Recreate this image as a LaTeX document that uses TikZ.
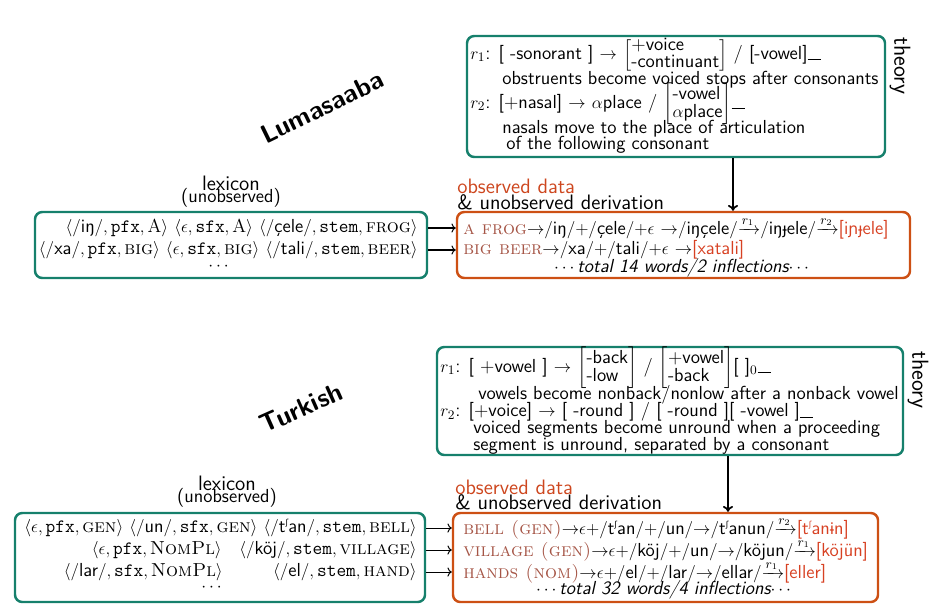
\documentclass[tikz,border=0pt]{standalone}
\usepackage{amsmath}
\usepackage{fontspec}
\newfontfamily\ipafont{DejaVu Sans}[Scale=0.82]
\usetikzlibrary{fit,arrows.meta}
\definecolor{boxgreen}{RGB}{22,128,108}
\definecolor{boxorange}{RGB}{205,80,20}
\definecolor{glosscol}{RGB}{165,85,70}
\definecolor{outcol}{RGB}{215,65,35}
\definecolor{obscol}{RGB}{205,70,30}
\newcommand\ipJ{{\ipafont ɟ}}
\newcommand\ipN{{\ipafont ɲ}}
\newcommand\ipI{{\ipafont ɨ}}
\newcommand\tsh{t\raisebox{0.8ex}{\scriptsize\ipafont ʃ}}
\newcommand\tx[1]{\text{\sffamily #1}}
\newcommand\ra[1]{{\xrightarrow{#1}}}
\newcommand\ar{{\to}}
\newcommand\pl{{+}}
\newcommand\gl[1]{{\color{glosscol}\textsc{#1}}}
\newcommand\oc[1]{{\color{outcol}\sffamily #1}}
\newcommand\slot{\rule[-0.5pt]{0.7em}{0.5pt}}
\newcommand\fm[2]{\renewcommand\arraystretch{0.75}\left[\begin{array}{@{}l@{}}\text{#1}\\#2\end{array}\right]}
\tikzset{
  lexbox/.style={draw=boxgreen,line width=1.7pt,rounded corners=5pt,inner sep=0pt},
  obsbox/.style={draw=boxorange,line width=1.7pt,rounded corners=5pt,inner sep=0pt},
  row/.style={inner sep=0pt,font=\fontsize{13}{15}\selectfont},
  drow/.style={inner sep=0pt,font=\fontsize{13}{15}\selectfont},
  rule/.style={inner sep=0pt,font=\fontsize{13}{15}\selectfont\sffamily,anchor=west},
  lab/.style={inner sep=0pt,font=\Large\sffamily},
  sublab/.style={inner sep=0pt,font=\fontsize{13}{15}\selectfont\sffamily},
  thlab/.style={inner sep=0pt,font=\fontsize{16}{18}\selectfont\sffamily},
  langlab/.style={inner sep=0pt,font=\fontsize{18}{21}\selectfont\sffamily\bfseries},
  harrow/.style={-{To[length=3pt]},line width=0.7pt},
  varrow/.style={-{To[length=4pt,width=7pt]},line width=1.2pt}
}
\begin{document}
\begin{tikzpicture}[x=0.69pt,y=-0.69pt]
\useasboundingbox (0,0) rectangle (931,610);
% ===== Lumasaaba =====
\node[langlab,rotate=26] (langL) at (322,107) {Lumasaaba};
\coordinate (tL1) at (467,36); \coordinate (tL2) at (885,157);
\node[lexbox,fit=(tL1)(tL2)] (thL) {};
\node[thlab,rotate=-90] (tyL) at (900,66) {theory};
\node[rule] (rL1) at (470,55) {$r_1$: [ -sonorant ] $\to$ $\fm{+voice}{\text{-continuant}}$ / [-vowel]\slot};
\node[rule] (rL2) at (502,80) {obstruents become voiced stops after consonants};
\node[rule] (rL3) at (470,104) {$r_2$: [+nasal] $\to$ $\alpha$place / $\fm{-vowel}{\alpha\text{place}}$\slot};
\node[rule] (rL4) at (502,129) {nasals move to the place of articulation};
\node[rule] (rL5) at (506,145) {of the following consonant};
\node[lab] (lxL) at (231,183) {lexicon};
\node[sublab] (unL) at (231,198) {(unobserved)};
\node[lab,anchor=west,text=obscol] (odL) at (457,186) {observed data};
\node[lab,anchor=west] (udL) at (457,202) {\& unobserved derivation};
\coordinate (lL1) at (35,212); \coordinate (lL2) at (427,278);
\node[lexbox,fit=(lL1)(lL2)] (lexL) {};
\coordinate (oL1) at (457,212); \coordinate (oL2) at (910,278);
\node[obsbox,fit=(oL1)(oL2)] (obsL) {};
\node[row,anchor=east] (xL1) at (418,228) {$\langle/\tx{iŋ}/,\texttt{pfx},\mathrm{A}\rangle$ $\langle\epsilon,\texttt{sfx},\mathrm{A}\rangle$ $\langle/\tx{çele}/,\texttt{stem},\textsc{frog}\rangle$};
\node[row,anchor=east] (xL2) at (418,250) {$\langle/\tx{xa}/,\texttt{pfx},\textsc{big}\rangle$ $\langle\epsilon,\texttt{sfx},\textsc{big}\rangle$ $\langle/\tx{tali}/,\texttt{stem},\textsc{beer}\rangle$};
\node[row] (xL3) at (220,267) {$\cdots$};
\node[drow,anchor=west] (dL1) at (463,228) {\gl{a frog}$\ar/\tx{iŋ}/\pl/\tx{çele}/\pl\epsilon\ \ar/\tx{iŋçele}/\ra{r_1}/\tx{iŋ\ipJ ele}/\ra{r_2}$\oc{[i\ipN\ipJ ele]}};
\node[drow,anchor=west] (dL2) at (463,250) {\gl{big beer}$\ar/\tx{xa}/\pl/\tx{tali}/\pl\epsilon\ \ar$\oc{[xatali]}};
\node[row] (dL3) at (683,268) {$\cdots${\sffamily\itshape total 14 words/2 inflections}$\cdots$};
\draw[harrow] (lexL.east |- xL1.east) -- (obsL.west |- xL1.east);
\draw[harrow] (lexL.east |- xL2.east) -- (obsL.west |- xL2.east);
\coordinate (axL) at (733,0);
\draw[varrow] (thL.south -| axL) -- (obsL.north -| axL);
% ===== Turkish =====
\node[langlab,rotate=24] (langT) at (301,408) {Turkish};
\coordinate (tT1) at (437,347); \coordinate (tT2) at (903,455);
\node[lexbox,fit=(tT1)(tT2)] (thT) {};
\node[thlab,rotate=-90] (tyT) at (918,380) {theory};
\node[rule] (rT1) at (440,368) {$r_1$: [ +vowel ] $\to$ $\fm{-back}{\text{-low}}$ / $\fm{+vowel}{\text{-back}}$[ ]$_0$\slot};
\node[rule] (rT2) at (478,395) {vowels become nonback/nonlow after a nonback vowel};
\node[rule] (rT3) at (440,412) {$r_2$: [+voice] $\to$ [ -round ] / [ -round ][ -vowel ]\slot};
\node[rule] (rT4) at (473,429) {voiced segments become unround when a proceeding};
\node[rule] (rT5) at (473,446) {segment is unround, separated by a consonant};
\node[lab] (lxT) at (227,483) {lexicon};
\node[sublab] (unT) at (227,498) {(unobserved)};
\node[lab,anchor=west,text=obscol] (odT) at (455,487) {observed data};
\node[lab,anchor=west] (udT) at (455,502) {\& unobserved derivation};
\coordinate (lT1) at (15,513); \coordinate (lT2) at (425,602);
\node[lexbox,fit=(lT1)(lT2)] (lexT) {};
\coordinate (oT1) at (453,513); \coordinate (oT2) at (878,602);
\node[obsbox,fit=(oT1)(oT2)] (obsT) {};
\node[row,anchor=east] (xT1) at (417,528) {$\langle\epsilon,\texttt{pfx},\textsc{gen}\rangle$ $\langle/\tx{un}/,\texttt{sfx},\textsc{gen}\rangle$ $\langle/\tx{\tsh an}/,\texttt{stem},\textsc{bell}\rangle$};
\node[row,anchor=east] (xT2a) at (222,550) {$\langle\epsilon,\texttt{pfx},\textsc{NomPl}\rangle$};
\node[row,anchor=east] (xT2) at (417,550) {$\langle/\tx{köj}/,\texttt{stem},\textsc{village}\rangle$};
\node[row,anchor=east] (xT3a) at (223,572) {$\langle/\tx{lar}/,\texttt{sfx},\textsc{NomPl}\rangle$};
\node[row,anchor=east] (xT3) at (417,572) {$\langle/\tx{el}/,\texttt{stem},\textsc{hand}\rangle$};
\node[row] (xT4) at (213,588) {$\cdots$};
\node[drow,anchor=west] (dT1) at (463,528) {\gl{bell (gen)}$\ar\epsilon\pl/\tx{\tsh an}/\pl/\tx{un}/\ar/\tx{\tsh anun}/\ra{r_2}$\oc{[\tsh an\ipI n]}};
\node[drow,anchor=west] (dT2) at (463,550) {\gl{village (gen)}$\ar\epsilon\pl/\tx{köj}/\pl/\tx{un}/\ar/\tx{köjun}/\ra{r_1}$\oc{[köjün]}};
\node[drow,anchor=west] (dT3) at (463,572) {\gl{hands (nom)}$\ar\epsilon\pl/\tx{el}/\pl/\tx{lar}/\ar/\tx{ellar}/\ra{r_1}$\oc{[eller]}};
\node[row] (dT4) at (665,590) {$\cdots${\sffamily\itshape total 32 words/4 inflections}$\cdots$};
\draw[harrow] (lexT.east |- xT1.east) -- (obsT.west |- xT1.east);
\draw[harrow] (lexT.east |- xT2.east) -- (obsT.west |- xT2.east);
\draw[harrow] (lexT.east |- xT3.east) -- (obsT.west |- xT3.east);
\coordinate (axT) at (728,0);
\draw[varrow] (thT.south -| axT) -- (obsT.north -| axT);
\end{tikzpicture}
\end{document}
